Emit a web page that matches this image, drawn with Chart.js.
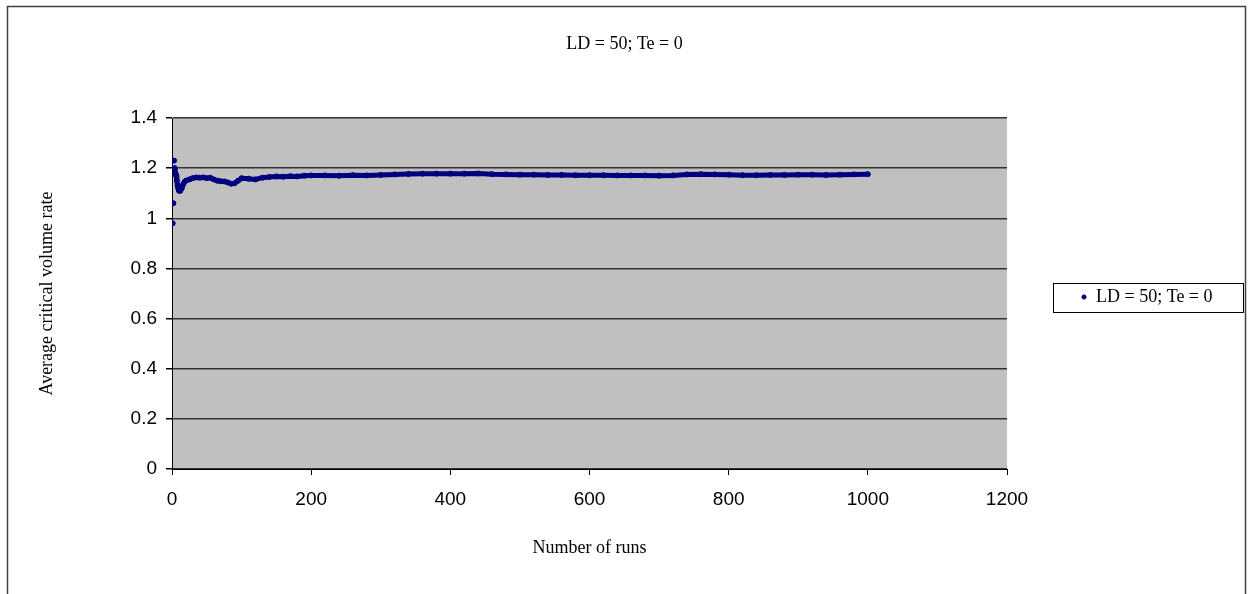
<!DOCTYPE html>
<html>
<head>
<meta charset="utf-8">
<script src="https://cdn.jsdelivr.net/npm/chart.js@4.4.0/dist/chart.umd.min.js"></script>
<style>
  html, body { margin: 0; padding: 0; background: #fff; }
</style>
</head>
<body>
<canvas id="chart" width="1249" height="594"></canvas>
<script>
// Values
const seriesLabel = "LD = 50; Te = 0";
const runs = [1, 2, 3, 4, 5, 6, 7, 8, 9, 10, 12, 14, 16, 18, 20, 25, 30, 35, 40, 45,
    50, 55, 60, 65, 70, 75, 80, 85, 90, 95, 100, 110, 120, 130, 140, 150, 160, 170, 180, 190,
    200, 220, 240, 260, 280, 300, 320, 340, 360, 380, 400, 420, 440, 460, 480, 500,
    520, 540, 560, 580, 600, 620, 640, 660, 680, 700, 720, 740, 760, 780, 800,
    820, 840, 860, 880, 900, 920, 940, 960, 980, 1000];
const avgRate = [0.98, 1.06, 1.23, 1.2, 1.18, 1.17, 1.15, 1.13, 1.12, 1.11, 1.11, 1.12, 1.135, 1.145, 1.15, 1.155, 1.16, 1.163, 1.162, 1.163,
    1.16, 1.162, 1.155, 1.15, 1.148, 1.147, 1.143, 1.138, 1.14, 1.15, 1.16, 1.158, 1.155, 1.162, 1.165, 1.167, 1.166, 1.168, 1.167, 1.17,
    1.171, 1.171, 1.17, 1.172, 1.171, 1.173, 1.175, 1.177, 1.178, 1.178, 1.178, 1.178, 1.179, 1.176, 1.175, 1.174,
    1.174, 1.173, 1.173, 1.172, 1.172, 1.172, 1.171, 1.171, 1.171, 1.17, 1.171, 1.175, 1.176, 1.175, 1.174,
    1.172, 1.172, 1.173, 1.173, 1.174, 1.174, 1.173, 1.174, 1.175, 1.176];
const xTickLabels = ["0", "200", "400", "600", "800", "1000", "1200"];
const yTickLabels = ["0", "0.2", "0.4", "0.6", "0.8", "1", "1.2", "1.4"];

const serif = '"Liberation Serif", "Times New Roman", serif';
const sans = '"Liberation Sans", Arial, sans-serif';

// legend sits right of the plot, so work out side padding from its text width
const m = document.createElement("canvas").getContext("2d");
m.font = "18px " + serif;
const labelW = m.measureText(seriesLabel).width;
const legendPad = 74, boxW = 6;
const sidePad = Math.max(0, 242 - (legendPad + boxW + 9 + labelW + 10));

const backdrop = {
    id: "backdrop",
    beforeDraw(chart) {
        const { ctx, chartArea: a } = chart;
        ctx.save();
        ctx.fillStyle = "#c0c0c0";
        ctx.fillRect(a.left, a.top, a.right - a.left, a.bottom - a.top);
        ctx.strokeStyle = "#404040";
        ctx.lineWidth = 1.5;
        ctx.strokeRect(7.5, 6.5, 1238, 620);
        ctx.restore();
    },
    afterDraw(chart) {
        const hb = chart.legend.legendHitBoxes[0];
        if (!hb) return;
        const { ctx } = chart;
        const cy = hb.top + hb.height / 2;
        ctx.save();
        ctx.strokeStyle = "#000";
        ctx.lineWidth = 1;
        ctx.strokeRect(Math.round(hb.left - 28) + 0.5, Math.round(cy - 14.5) + 0.5, 190, 29);
        ctx.restore();
    },
};

new Chart(document.getElementById("chart"), {
    type: "scatter",
    data: {
        datasets: [{
            label: seriesLabel,
            data: runs.map((r, i) => ({ x: r, y: avgRate[i] })),
            showLine: true,
            borderColor: "#000080",
            backgroundColor: "#000080",
            borderWidth: 5,
            borderJoinStyle: "round",
            borderCapStyle: "round",
            pointRadius: 2.5,
            pointBorderWidth: 1,
            pointStyle: "circle",
            segment: {
                borderColor: (c) => (c.p0DataIndex < 3 ? "rgba(0,0,0,0)" : "#000080"),
            },
        }],
    },
    options: {
        responsive: false,
        animation: false,
        layout: { padding: { left: sidePad, right: sidePad, top: 0, bottom: 0 } },
        plugins: {
            title: {
                display: true,
                text: seriesLabel,
                color: "#000",
                font: { family: serif, size: 18, weight: "normal" },
                padding: { top: 33.2, bottom: 63.2 },
            },
            legend: {
                position: "right",
                labels: {
                    usePointStyle: true,
                    boxWidth: boxW,
                    boxHeight: 3,
                    padding: legendPad,
                    color: "#000",
                    font: { family: serif, size: 18 },
                },
            },
            tooltip: { enabled: false },
        },
        scales: {
            x: {
                type: "linear",
                min: 0,
                max: 1200,
                afterFit: (s) => { s.height = 125; },
                ticks: {
                    stepSize: 200,
                    color: "#000",
                    padding: 13,
                    maxRotation: 0,
                    font: { family: sans, size: 19 },
                    callback: (v, i) => xTickLabels[i],
                },
                grid: { drawOnChartArea: false, tickLength: 6, tickColor: "#000" },
                border: { color: "#000", width: 1 },
                title: {
                    display: true,
                    text: "Number of runs",
                    color: "#000",
                    font: { family: serif, size: 18 },
                    padding: { top: 0, bottom: 35 },
                },
            },
            y: {
                min: 0,
                max: 1.4,
                afterFit: (s) => { s.width = 172 - sidePad; },
                ticks: {
                    stepSize: 0.2,
                    color: "#000",
                    padding: 9,
                    font: { family: sans, size: 19 },
                    callback: (v, i) => yTickLabels[i],
                },
                grid: { color: "#333", lineWidth: 1.5, tickLength: 6, tickColor: "#000" },
                border: { color: "#000", width: 1 },
                title: {
                    display: true,
                    text: "Average critical volume rate",
                    color: "#000",
                    font: { family: serif, size: 18 },
                    padding: { top: 47 - sidePad - 10.8, bottom: 0 },
                },
            },
        },
    },
    plugins: [backdrop],
});
</script>
</body>
</html>
